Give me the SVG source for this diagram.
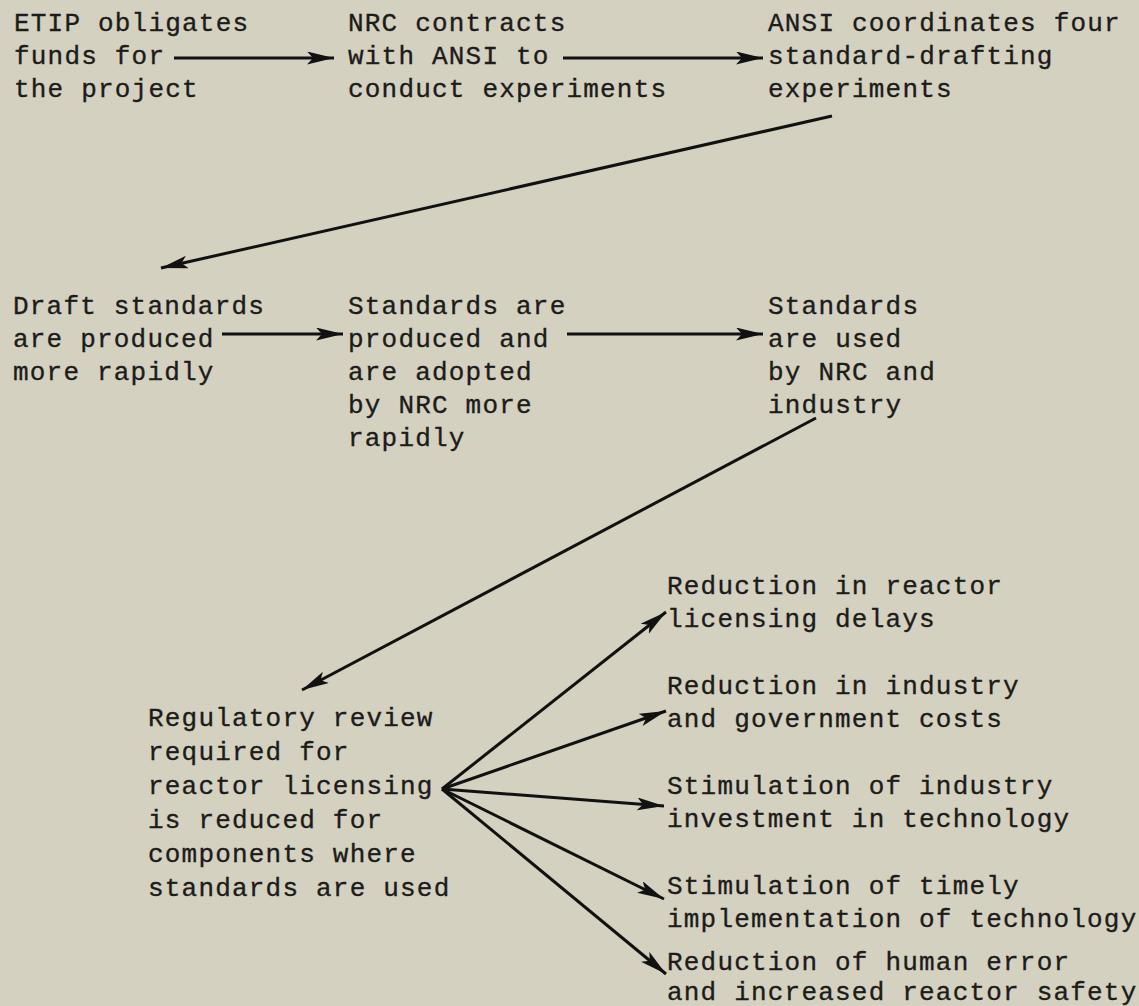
<svg xmlns="http://www.w3.org/2000/svg" width="1139" height="1006" viewBox="0 0 1139 1006">
<defs>
<style>
text{font-family:"Liberation Mono","Courier New",monospace;font-size:26px;letter-spacing:1.2px;fill:#1c1c1a;stroke:#1c1c1a;stroke-width:0.35px}
.c{stroke:#111;stroke-width:3;fill:none;marker-end:url(#ah)}
</style>
<marker id="ah" markerUnits="userSpaceOnUse" markerWidth="30" markerHeight="14" refX="27" refY="6.5" orient="auto">
<path d="M0,0 L27,6.5 L0,13 L6,6.5 Z" fill="#111"/>
</marker>
</defs>
<rect width="1139" height="1006" fill="#d4d1c1"/>
<g id="connectors">
<line class="c" x1="174" y1="58" x2="334" y2="58"/>
<line class="c" x1="563" y1="58" x2="763" y2="58"/>
<line class="c" x1="832" y1="116" x2="161" y2="268"/>
<line class="c" x1="222" y1="334" x2="343" y2="334"/>
<line class="c" x1="567" y1="334" x2="763" y2="334"/>
<line class="c" x1="816" y1="418" x2="302" y2="690"/>
<line class="c" x1="442" y1="789" x2="666" y2="612"/>
<line class="c" x1="442" y1="789" x2="666" y2="711"/>
<line class="c" x1="442" y1="789" x2="664" y2="806"/>
<line class="c" x1="442" y1="789" x2="664" y2="899"/>
<line class="c" x1="442" y1="789" x2="666" y2="974"/>
</g>
<g id="n1"><text x="14" y="31">ETIP obligates</text><text x="14" y="64">funds for</text><text x="14" y="97">the project</text></g>
<g id="n2"><text x="348" y="31">NRC contracts</text><text x="348" y="64">with ANSI to</text><text x="348" y="97">conduct experiments</text></g>
<g id="n3"><text x="768" y="31">ANSI coordinates four</text><text x="768" y="64">standard-drafting</text><text x="768" y="97">experiments</text></g>
<g id="n4"><text x="13" y="314">Draft standards</text><text x="13" y="347">are produced</text><text x="13" y="380">more rapidly</text></g>
<g id="n5"><text x="348" y="314">Standards are</text><text x="348" y="347">produced and</text><text x="348" y="380">are adopted</text><text x="348" y="413">by NRC more</text><text x="348" y="446">rapidly</text></g>
<g id="n6"><text x="768" y="314">Standards</text><text x="768" y="347">are used</text><text x="768" y="380">by NRC and</text><text x="768" y="413">industry</text></g>
<g id="n7"><text x="148" y="726">Regulatory review</text><text x="148" y="760">required for</text><text x="148" y="794">reactor licensing</text><text x="148" y="828">is reduced for</text><text x="148" y="862">components where</text><text x="148" y="896">standards are used</text></g>
<g id="n8"><text x="667" y="594">Reduction in reactor</text><text x="667" y="627">licensing delays</text></g>
<g id="n9"><text x="667" y="694">Reduction in industry</text><text x="667" y="727">and government costs</text></g>
<g id="n10"><text x="667" y="794">Stimulation of industry</text><text x="667" y="827">investment in technology</text></g>
<g id="n11"><text x="667" y="894">Stimulation of timely</text><text x="667" y="927">implementation of technology</text></g>
<g id="n12"><text x="667" y="970">Reduction of human error</text><text x="667" y="1000">and increased reactor safety</text></g>
</svg>
